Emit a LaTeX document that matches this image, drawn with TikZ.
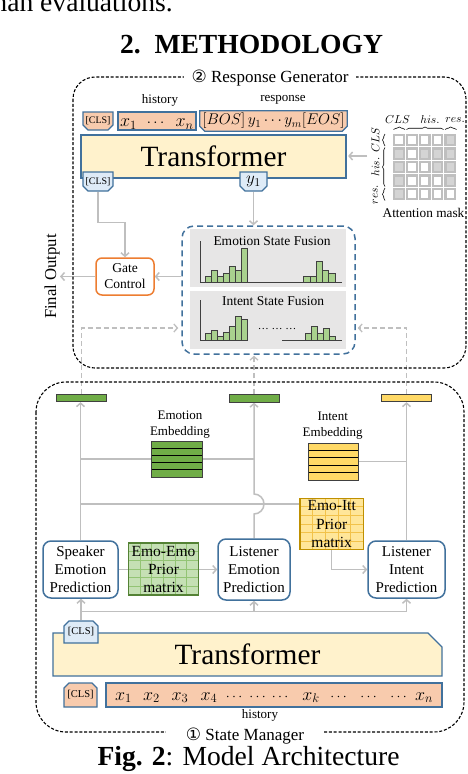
\RequirePackage{fix-cm}
\documentclass[tikz,border=0pt]{standalone}
\usepackage{fontspec}
\setmainfont{Liberation Serif}
\newfontfamily\djv{DejaVu Sans}
\usetikzlibrary{shapes.misc,arrows.meta,calc,decorations.pathreplacing}
\definecolor{bdblue}{HTML}{41719C}
\definecolor{tokfill}{HTML}{F8CBAD}
\definecolor{trfill}{HTML}{FFF2CC}
\definecolor{tabfill}{HTML}{DEEBF7}
\definecolor{lgray}{HTML}{BFBFBF}
\definecolor{panel}{HTML}{E7E6E6}
\definecolor{barfill}{HTML}{A9D18E}
\definecolor{ggreen}{HTML}{70AD47}
\definecolor{gyellow}{HTML}{FFD966}
\definecolor{eitfill}{HTML}{FFE699}
\definecolor{eitgrid}{HTML}{F2C24A}
\definecolor{eitdraw}{HTML}{BF9000}
\definecolor{eemfill}{HTML}{C5E0B4}
\definecolor{eemgrid}{HTML}{93C474}
\definecolor{eemdraw}{HTML}{548235}
\definecolor{gateor}{HTML}{ED7D31}
\definecolor{mgray}{HTML}{BFBFBF}
\definecolor{mgraytwo}{HTML}{D4D4D4}
\definecolor{axisc}{HTML}{404040}
\newcommand\fsz[2]{\fontsize{#1pt}{#2pt}\selectfont}
\pgfdeclarelayer{background}
\pgfsetlayers{background,main}
\tikzset{
  outerdash/.style={draw=black,line width=1.1pt,dash pattern=on 3pt off 1.8pt},
  tok/.style={chamfered rectangle,chamfered rectangle xsep=2.5pt,chamfered rectangle ysep=2.5pt,
    draw=bdblue,fill=tokfill,line width=1.2pt,inner sep=0pt},
  snipS/.style={chamfered rectangle corners={south west,south east}},
  snipN/.style={chamfered rectangle corners={north west,north east}},
  tabbox/.style={tok,fill=tabfill},
  trans/.style={draw=bdblue,fill=trfill,line width=1.2pt,inner sep=0pt,font=\fsz{29.4}{30}},
  gline/.style={draw=lgray,line width=1.5pt},
  arr/.style={gline,-{Straight Barb[length=3.5pt,width=8pt]}},
  darr/.style={draw=lgray,line width=1.3pt,dash pattern=on 5pt off 3pt,-{Straight Barb[length=3.5pt,width=8pt]}},
  barg/.style={draw=axisc,line width=0.8pt,fill=ggreen,minimum width=50pt,minimum height=7.5pt,inner sep=0pt},
  bar/.style={draw=axisc,line width=0.6pt,fill=barfill},
  axisl/.style={draw=axisc,line width=1pt},
  pred/.style={draw=bdblue,line width=1.5pt,rounded corners=8pt,fill=white,align=center,font=\fsz{15}{18},inner sep=0pt},
  rows/.style n args={2}{path picture={
    \foreach \k in {1,...,#1} \draw[#2,line width=0.9pt]
      ($(path picture bounding box.north west)!\k/#1!(path picture bounding box.south west)$) --
      ($(path picture bounding box.north east)!\k/#1!(path picture bounding box.south east)$);}},
  mgrid/.style n args={3}{path picture={
    \foreach \k in {1,...,#1} \draw[#3,line width=0.8pt]
      ($(path picture bounding box.north west)!\k/#1!(path picture bounding box.north east)$) --
      ($(path picture bounding box.south west)!\k/#1!(path picture bounding box.south east)$);
    \foreach \k in {1,...,#2} \draw[#3,line width=0.8pt]
      ($(path picture bounding box.north west)!\k/#2!(path picture bounding box.south west)$) --
      ($(path picture bounding box.north east)!\k/#2!(path picture bounding box.south east)$);}},
  mbrace/.style={decorate,decoration={brace,amplitude=2.5pt},line width=0.6pt,draw=black},
  mlab/.style={font=\fsz{11.5}{12},inner sep=0pt},
}
\begin{document}
\begin{tikzpicture}[x=1pt,y=-1pt]
\useasboundingbox (0,0) rectangle (468,774);
\clip (0,0) rectangle (468,774);
\begin{pgfonlayer}{background}
\fill[white] (0,0) rectangle (468,774);
\end{pgfonlayer}

% preceding text and heading
\node[anchor=base east,font=\fsz{27.6}{30},inner sep=0pt] (prev) at (173,11.5) {human evaluations.};
\node[anchor=base,font=\fsz{27.6}{30}\bfseries,inner sep=0pt] (head) at (251.5,53) {2.\hspace{0.5em}METHODOLOGY};

% outer dashed boxes
\draw[outerdash,rounded corners=22pt] (73,77) rectangle (466,368);
\node[fill=white,inner xsep=8pt,inner ysep=2pt,anchor=base,font=\fsz{17}{20}] (rgl) at (270,82) {{\djv ②} Response Generator};
\draw[outerdash,rounded corners=30pt] (36,382) rectangle (464,732);
\node[fill=white,inner xsep=20pt,inner ysep=2pt,anchor=base,font=\fsz{17}{20}] (sml) at (245,740) {{\djv ①} State Manager};

% ---------- Response generator ----------
\node[font=\fsz{13}{13}] (lhis) at (160,100) {history};
\node[font=\fsz{13}{13}] (lres) at (283,100) {response};
\node[tok,snipS,minimum width=28pt,minimum height=18pt,font=\fsz{10}{12}] (tcls) at (98,121) {[CLS]};
\node[tok,snipS,minimum width=78pt,minimum height=18pt] (tx) at (157,121) {};
\node[anchor=base,font=\fsz{18}{18},inner sep=0pt] (tx1) at (128.5,126.5) {$x_1$};
\node[anchor=base,font=\fsz{15}{15},inner sep=0pt] (txd) at (155.5,126.5) {$\cdots$};
\node[anchor=base,font=\fsz{18}{18},inner sep=0pt] (txn) at (184.5,126.5) {$x_n$};
\node[tok,snipS,minimum width=141pt,minimum height=18pt,font=\fsz{15.5}{15}] (tr) at (273.5,121) {$[BOS]\,y_1\cdots y_m[EOS]$};

\node[trans,minimum width=265pt,minimum height=43pt] (trT) at (213.5,156.5) {Transformer};
\node[tabbox,snipS,minimum width=28pt,minimum height=19pt,font=\fsz{10}{12}] (bcls) at (98,181.5) {[CLS]};
\node[tabbox,snipS,minimum width=27pt,minimum height=19pt,font=\fsz{17}{17}] (by1) at (253.5,181.5) {$y_1$};

% attention mask
\foreach \c in {0,...,4} \foreach \r in {0,...,4} {
  \fill[mgray] (393.2+\c*12.8,133.8+\r*13.5) rectangle ++(11.8,12.5);
  \fill[white] (395.4+\c*12.8,136+\r*13.5) rectangle ++(7.4,8.1);
}
\foreach \c/\r in {4/0,0/1,2/1,3/1,4/1,0/2,3/2,4/2,0/3,4/3,0/4}
  \fill[mgraytwo] (395.4+\c*12.8,136+\r*13.5) rectangle ++(7.4,8.1);
\node[mlab] (mc1) at (397.5,120) {$CLS$};
\node[mlab] (mc2) at (430,120) {$his.$};
\node[mlab] (mc3) at (455,120) {$res.$};
\draw[mbrace] (393.5,129.5) -- (405,129.5);
\draw[mbrace] (406.5,129.5) -- (443.5,129.5);
\draw[mbrace] (445,129.5) -- (456.5,129.5);
\node[mlab,rotate=90] (mr1) at (375.5,139.8) {$CLS$};
\node[mlab,rotate=90] (mr2) at (375.5,167) {$his.$};
\node[mlab,rotate=90] (mr3) at (375.5,194.5) {$res.$};
\draw[mbrace] (385,146) -- (385,134);
\draw[mbrace] (385,186.5) -- (385,147.5);
\draw[mbrace] (385,200.5) -- (385,188);
\node[font=\fsz{13.3}{14}] (amask) at (423.5,213) {Attention mask};
\coordinate (mtail) at (367,156);

% gate and fusion
\node[draw=gateor,line width=1.5pt,rounded corners=6pt,minimum width=58pt,minimum height=37pt,
  align=center,font=\fsz{13.5}{16},fill=white,inner sep=0pt] (gate) at (125,276.5) {Gate\\Control};
\node[rotate=90,font=\fsz{16.7}{17}] (fo) at (52,276.5) {Final Output};
\coordinate (foend) at (60,276.5);
\node[draw=bdblue,line width=1.5pt,dash pattern=on 6pt off 4pt,rounded corners=12pt,
  minimum width=173pt,minimum height=128pt] (fusion) at (268.5,290) {};
\node[fill=panel,minimum width=156pt,minimum height=58pt,inner sep=0pt] (emoP) at (268,258) {};
\node[fill=panel,minimum width=156pt,minimum height=58pt,inner sep=0pt] (intP) at (268,320) {};
\node[font=\fsz{13.5}{14}] (emoT) at (272,241) {Emotion State Fusion};
\node[font=\fsz{13.5}{14}] (intT) at (273,301.5) {Intent State Fusion};
\foreach \h [count=\i from 0] in {6,12,6,9,16.5,12.5,34}
  \draw[bar] (205+\i*6,282.5) rectangle ++(6,-\h);
\foreach \h [count=\i from 0] in {6.5,6.5,21,12.5,9}
  \draw[bar] (303.5+\i*6.3,282.5) rectangle ++(6.3,-\h);
\draw[axisl] (200.5,241) -- (200.5,282.5) -- (342,282.5);
\foreach \h [count=\i from 0] in {7.3,10.7,4.7,8,14.7,24.7,21.3}
  \draw[bar] (205+\i*6,340.7) rectangle ++(6,-\h);
\foreach \h [count=\i from 0] in {7.3,14.7,7.3,12.3,4.7}
  \draw[bar] (305+\i*6,340.7) rectangle ++(6,-\h);
\draw[axisl] (200.7,300) -- (200.7,340.7) -- (248,340.7);
\draw[axisl] (282,340.7) -- (342,340.7);
\node[anchor=base,font=\fsz{11}{11},inner sep=0pt] (dots) at (277,329) {\dots\ \dots\ \dots};

% ---------- State manager ----------
\node[barg] (gL) at (81.7,398) {};
\node[barg] (gM) at (254,398.5) {};
\node[barg,fill=gyellow] (gY) at (406.7,398) {};
\node[align=center,font=\fsz{13}{16}] (eembL) at (180,424.7) {Emotion\\Embedding};
\node[draw=axisc,line width=0.9pt,fill=ggreen,minimum width=50.6pt,minimum height=36pt,inner sep=0pt,rows={5}{black}] (eemb) at (177,459) {};
\node[align=center,font=\fsz{13}{16}] (iembL) at (332.7,426) {Intent\\Embedding};
\node[draw=axisc,line width=0.9pt,fill=gyellow,minimum width=50pt,minimum height=37pt,inner sep=0pt,rows={5}{black}] (iemb) at (333,461.5) {};

\node[draw=eitdraw,line width=1.2pt,fill=eitfill,minimum width=63.3pt,minimum height=51.7pt,inner sep=0pt,
  align=center,font=\fsz{15.5}{18.3},mgrid={5}{6}{eitgrid}] (eit) at (331.7,524) {Emo-Itt\\Prior\\matrix};
\node[draw=eemdraw,line width=1.2pt,fill=eemfill,minimum width=70pt,minimum height=52pt,inner sep=0pt,
  align=center,font=\fsz{15.5}{18},mgrid={6}{6}{eemgrid}] (eem) at (163.5,569) {Emo-Emo\\Prior\\matrix};

\node[pred,minimum width=75pt,minimum height=57pt] (spk) at (80.5,569.5) {Speaker\\Emotion\\Prediction};
\node[pred,minimum width=72pt,minimum height=61pt] (lem) at (254,569.5) {Listener\\Emotion\\Prediction};
\node[pred,minimum width=77pt,minimum height=57pt] (lint) at (406.5,569.5) {Listener\\Intent\\Prediction};

\node[trans,chamfered rectangle,chamfered rectangle corners=north east,chamfered rectangle xsep=7pt,
  chamfered rectangle ysep=7pt,minimum width=389pt,minimum height=43pt] (trB) at (247.5,654.5) {Transformer};
\node[tabbox,snipN,minimum width=34pt,minimum height=22pt,font=\fsz{10.5}{12}] (scls) at (81,632) {[CLS]};
\node[tok,snipN,minimum width=33pt,minimum height=24pt,font=\fsz{10.5}{12}] (bcls2) at (80.5,695) {[CLS]};
\node[tok,snipN,minimum width=336pt,minimum height=24pt] (hist) at (274,695) {};
\foreach \p/\t/\s [count=\i] in {123.5/x_1/18,151.5/x_2/18,180/x_3/18,209/x_4/18,234/\cdots/14,257.5/\cdots/14,280/\cdots/14,
  311/x_k/18,338.5/\cdots/14,368.5/\cdots/14,398.5/\cdots/14,424/x_n/18}
  \node[anchor=base,font=\fsz{\s}{18},inner sep=0pt] (hx\i) at (\p,700) {$\t$};
\node[font=\fsz{13}{13}] (lhis2) at (260,715) {history};

\node[anchor=base,font=\fsz{27.6}{30},inner sep=0pt] (cap) at (248.5,765) {\textbf{Fig. 2}: Model Architecture};

\coordinate (hopC) at ([yshift=20pt]eit.west);
\coordinate (hopB) at ([yshift=-10pt]hopC);
\coordinate (jn) at ([yshift=9pt]scls.north);

% ---------- connectors (behind) ----------
\begin{pgfonlayer}{background}
\draw[arr,shorten >=1.5pt] (mtail) -- (mtail -| trT.east);
\draw[arr] (bcls.south) -- ++(0,31) -| (gate.north);
\draw[arr] (by1.south) -- (by1.south |- fusion.north);
\draw[arr] (fusion.west |- gate.east) -- (gate.east);
\draw[arr] (gate.west) -- (foend);
\draw[darr,shorten >=3pt] (gL.north) |- ([yshift=-38pt]fusion.west);
\draw[darr,shorten >=1pt] (gM.north) -- (gM.north |- fusion.south);
\draw[darr,shorten >=2pt] (gY.north) |- ([yshift=-38pt]fusion.east);
\draw[arr] (spk.north) -- (spk.north |- gL.south);
\draw[arr] (lem.north) -- (lem.north |- hopB) arc[start angle=-90,end angle=90,radius=10pt] -- (lem.north |- gM.south);
\draw[arr] (lint.north) -- (lint.north |- gY.south);
\draw[gline] (spk.north |- eemb.west) -- (lem.north |- eemb.west);
\draw[gline] (iemb.east) -- (iemb.east -| lint.north);
\draw[gline] (hopC) -- (hopC -| spk.north);
\draw[arr] (eit.south) |- (lint.west);
\draw[arr] (spk.east) -- (lem.west);
\draw[arr] (scls.north) -- (scls.north |- spk.south);
\draw[arr] (jn) -| (lem.south);
\draw[arr] (jn) -| (lint.south);
\end{pgfonlayer}
\end{tikzpicture}
\end{document}
